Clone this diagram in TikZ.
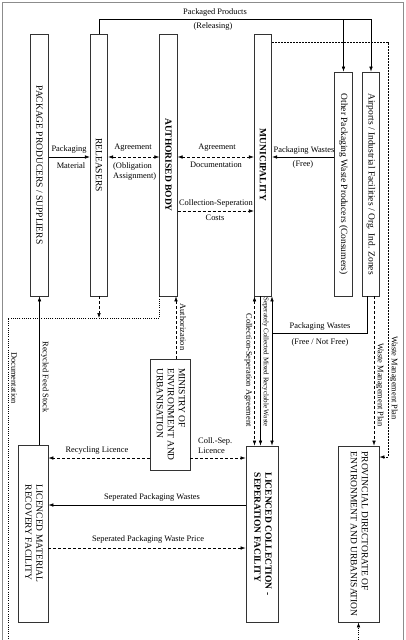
\documentclass[tikz,border=0pt]{standalone}
\usepackage{fontspec}
\setmainfont{Liberation Serif}
\usepackage{graphicx}
\usetikzlibrary{arrows.meta}
\newcommand{\boxfont}{\fontsize{9.5}{11}\selectfont}
\newcommand{\lblfont}{\fontsize{8.4}{9.5}\selectfont}
\newcommand{\smallfont}{\fontsize{7}{8}\selectfont}
\newcommand{\turn}[1]{\rotatebox{-90}{#1}}
\tikzstyle{box}=[draw=black!80,line width=0.8pt,inner sep=0pt,font=\boxfont]
\tikzstyle{flow}=[draw,line width=0.6pt,->]
\tikzstyle{deal}=[draw,line width=0.6pt,dash pattern=on 3pt off 2pt]
\tikzstyle{paper}=[draw,line width=0.6pt,dash pattern=on 1pt off 1.2pt]
\tikzstyle{planline}=[draw,line width=0.6pt,dash pattern=on 2pt off 1pt]
\tikzstyle{lbl}=[font=\lblfont,inner sep=0pt]
\tikzstyle{sidelbl}=[font=\lblfont,inner sep=0pt,rotate=-90]

\begin{document}
\begin{tikzpicture}[x=1pt,y=-1pt,>={Latex[length=5pt,width=3.6pt]}]
    \useasboundingbox (0,0) rectangle (405,640);
    \clip (0,0) rectangle (405,640);
    % outer frame
    \draw[black!45,line width=0.8pt] (2,660) -- (2,2) -- (403,2) -- (403,660);

    % First we draw the boxes
    \foreach \name/\x/\txt in {prod/39.5/{PACKAGE PRODUCERS / SUPPLIERS}, rel/99/{RELEASERS}, auth/168.5/{\bfseries AUTHORISED BODY}, mun/263/{\bfseries MUNICIPALITY}}
        \node[box,minimum width=17.5pt,minimum height=262pt] (\name) at (\x,165) {\turn{\txt}};
    \node[box,minimum width=17.5pt,minimum height=224pt] (oth) at (343.5,184) {\turn{Other Packaging Waste Producers (Consumers)}};
    \node[box,minimum width=17.5pt,minimum height=224pt] (air) at (371,184) {\turn{Airports / Industrial Facilities / Org. Ind. Zones}};
    \node[box,minimum width=40pt,minimum height=111pt] (min) at (170,414.5) {\turn{\begin{tabular}{@{}l@{}}MINISTRY OF\\ENVIRONMENT AND\\URBANISATION\end{tabular}}};
    \node[box,minimum width=30pt,minimum height=177pt] (mrf) at (33,533.5) {\turn{\begin{tabular}{@{}l@{}}LICENCED MATERIAL\\RECOVERY FACILITY\end{tabular}}};
    \node[box,minimum width=32pt,minimum height=176pt] (coll) at (262,534) {\turn{\bfseries\begin{tabular}{@{}l@{}}LICENCED COLLECTION -\\SEPERATION FACILITY\end{tabular}}};
    \node[box,minimum width=41pt,minimum height=176pt] (prov) at (358.5,534) {\turn{\begin{tabular}{@{}l@{}}PROVINCIAL DIRECTORATE OF\\ENVIRONMENT AND URBANISATION\end{tabular}}};

    % rows and columns of the connectors
    \coordinate (pk) at (0,19);
    \coordinate (r1) at (0,157);
    \coordinate (r2) at (0,211);
    \coordinate (r3) at (8,318);
    \coordinate (low) at (8,655);
    \coordinate (jn) at (272,333);
    \coordinate (r4) at (0,458);
    \coordinate (r5) at (0,457);
    \coordinate (r6) at (0,505);
    \coordinate (r7) at (0,548);
    \coordinate (wm) at (388,42);
    \coordinate (au) at (176,0);
    \coordinate (c1) at (254.5,0);
    \coordinate (c2) at (260.5,0);
    \coordinate (pw) at (367,0);
    \coordinate (w2) at (374,0);

    % packaged products
    \draw[flow] (rel.north) |- (air.north |- pk) -- (air.north);
    \draw[flow] (oth.north |- pk) -- (oth.north);
    \node[lbl] (ppa) at (215,12) {Packaged Products};
    \node[lbl] (ppb) at (213,26) {(Releasing)};

    % upper row
    \draw[flow] (prod.east |- r1) -- (rel.west |- r1);
    \node[lbl] (pma) at (69,149) {Packaging};
    \node[lbl] (pmb) at (71,166) {Material};
    \draw[deal,<->] (rel.east |- r1) -- (auth.west |- r1);
    \node[lbl] (aga) at (133,148) {Agreement};
    \node[lbl,anchor=west] (agb) at (113,166) {(Obligation};
    \node[lbl,anchor=west] (agc) at (113,176) {Assignment)};
    \draw[deal,<->] (auth.east |- r1) -- (mun.west |- r1);
    \node[lbl] (ada) at (217,148) {Agreement};
    \node[lbl] (adb) at (216,165) {Documentation};
    \draw[deal,->] (auth.east |- r2) -- (mun.west |- r2);
    \node[lbl] (csa) at (216,203) {Collection-Seperation};
    \node[lbl] (csb) at (215,218) {Costs};
    \draw[flow] (oth.west |- r1) -- (mun.east |- r1);
    \node[lbl] (pwa) at (304,150) {Packaging Wastes};
    \node[lbl] (pwb) at (303,164) {(Free)};

    % plans and documents
    \draw[planline,->] (mun.east |- wm) -- (wm) |- (prov.east |- r5);
    \node[sidelbl] (wpa) at (394,378) {Waste Management Plan};
    \draw[deal,->] (air.south -| w2) -- (prov.north -| w2);
    \node[sidelbl] (wpb) at (380,385) {Waste Management Plan};
    \draw[paper,->] (auth.south west) -- (auth.south west |- r3) -- (r3) -- (low) -| (prov.south);
    \node[sidelbl] (doc) at (14,378) {Documentation};
    \draw[deal,->] (rel.south) -- (rel.south |- r3);
    \draw[deal,->] (min.north -| au) -- (auth.south -| au);
    \node[sidelbl] (aut) at (183,327) {Authorization};
    \draw[flow] (mrf.north -| prod.south) -- (prod.south);
    \node[sidelbl] (rfs) at (45,377) {Recycled Feed Stock};

    % municipality and collection
    \draw[deal,<->] (mun.south -| c1) -- (coll.north -| c1);
    \node[sidelbl] (csg) at (248.5,370) {Collection-Seperation Agreement};
    \draw[flow] (mun.south -| c2) -- (coll.north -| c2);
    \node[sidelbl,font=\smallfont] (smr) at (265.5,362) {Seperately Collected Mixed Recyclable Waste};
    \draw[flow] (air.south -| pw) |- (jn) -- (mun.south -| jn);
    \draw[flow] (jn) -- (coll.north -| jn);
    \node[lbl] (pwc) at (320,326) {Packaging Wastes};
    \node[lbl] (pwd) at (320,342) {(Free / Not Free)};

    % licences and lower rows
    \draw[deal,->] (min.west |- r4) -- (mrf.east |- r4);
    \node[lbl] (rcl) at (97,450) {Recycling Licence};
    \draw[deal,->] (min.east |- r4) -- (coll.west |- r4);
    \node[lbl,anchor=west] (cla) at (198,441) {Coll.-Sep.};
    \node[lbl,anchor=west] (clb) at (198,451) {Licence};
    \draw[flow] (coll.west |- r6) -- (mrf.east |- r6);
    \node[lbl] (spw) at (152,497) {Seperated Packaging Wastes};
    \draw[deal,->] (mrf.east |- r7) -- (coll.west |- r7);
    \node[lbl] (spp) at (148,539) {Seperated Packaging Waste Price};
\end{tikzpicture}
\end{document}
